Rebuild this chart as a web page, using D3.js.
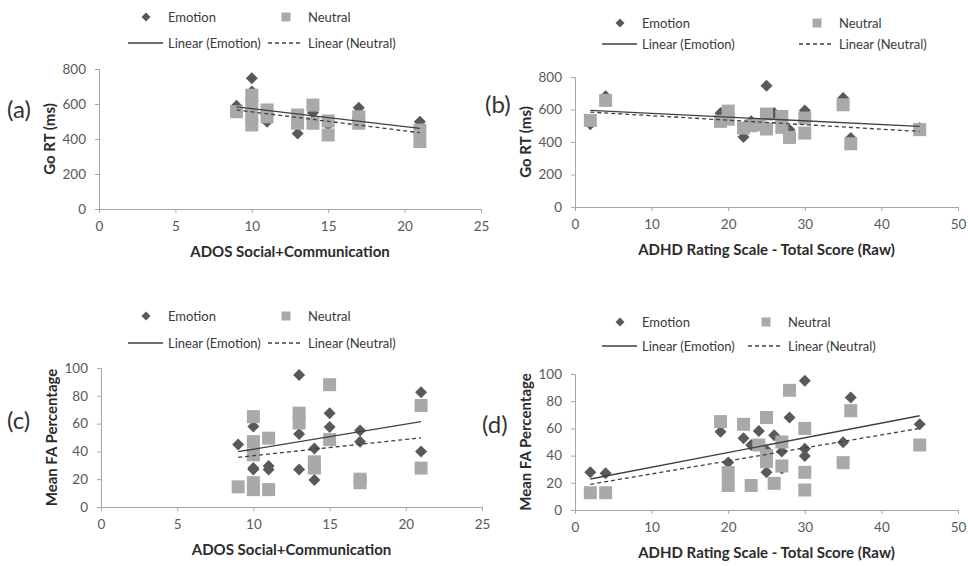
<!DOCTYPE html>
<html>
<head>
<meta charset="utf-8">
<script src="https://cdn.jsdelivr.net/npm/d3@7"></script>
<style>
	body { margin: 0; background: #fff; }
	svg { display: block; }
</style>
</head>
<body>
<div id="chart"></div>
<script>
// ---- data: [score, value] ----
var emotionRT_ADOS = [[9, 590], [10, 747], [10, 672], [11, 499], [13, 432], [14, 550], [15, 480], [17, 579], [21, 499]];
var neutralRT_ADOS = [[9, 556], [10, 650], [10, 600], [10, 530], [10, 480], [11, 566], [11, 527], [13, 537], [13, 490],
	[14, 594], [14, 490], [15, 503], [15, 423], [17, 527], [17, 490], [21, 451], [21, 385]];

var emotionRT_ADHD = [[2, 510], [4, 681], [19, 578], [22, 431], [23, 527], [25, 746], [26, 578], [28, 476], [30, 594],
	[35, 671], [36, 425], [45, 486]];
var neutralRT_ADHD = [[2, 533], [4, 656], [19, 527], [20, 590], [20, 540], [22, 486], [23, 500], [24, 506], [25, 572],
	[25, 480], [27, 557], [27, 490], [28, 428], [30, 547], [30, 455], [35, 629], [36, 389], [45, 476]];

var emotionFA_ADOS = [[9, 45], [10, 58], [10, 27], [10, 28], [11, 29.5], [11, 27], [13, 95], [13, 52.5], [13, 27],
	[14, 42], [14, 19.5], [15, 67.5], [15, 57.5], [17, 55], [17, 47], [21, 82.5], [21, 40]];
var neutralFA_ADOS = [[9, 14.5], [10, 65], [10, 47], [10, 37.5], [10, 17.5], [10, 12.5], [11, 49.5], [11, 12.5],
	[13, 67.5], [13, 60.5], [14, 32.5], [14, 28], [15, 88], [15, 48.5], [17, 20], [17, 17.5], [21, 73], [21, 28]];

var emotionFA_ADHD = [[2, 27.7], [4, 27], [19, 57.6], [20, 35], [20, 21], [22, 52.7], [23, 47.8], [24, 58], [25, 27.7],
	[25, 44], [26, 55], [27, 43], [27, 30.6], [28, 68], [30, 95], [30, 45], [30, 39.7], [35, 49.8], [36, 82.8], [45, 63]];
var neutralFA_ADHD = [[2, 12.7], [4, 12.7], [19, 65], [20, 27.5], [20, 18], [22, 63], [23, 18], [24, 47.8], [25, 68],
	[25, 40], [25, 35.5], [26, 19.6], [27, 50], [27, 32.4], [28, 88], [30, 60], [30, 27.7], [30, 14.7], [35, 34.8],
	[36, 73], [45, 47.8]];

// linear trendlines as drawn (end points)
var fitEmotionRT_ADOS = [[9, 584], [21, 461]];
var fitNeutralRT_ADOS = [[9, 566], [21, 436]];
var fitEmotionRT_ADHD = [[2, 594], [45, 496]];
var fitNeutralRT_ADHD = [[2, 584], [45, 465]];
var fitEmotionFA_ADOS = [[9, 39.8], [21, 61.4]];
var fitNeutralFA_ADOS = [[9, 35.7], [21, 49.8]];
var fitEmotionFA_ADHD = [[2, 22.8], [45, 69.3]];
var fitNeutralFA_ADHD = [[2, 18.9], [45, 60]];

var adosTicks = [0, 5, 10, 15, 20, 25];
var adhdTicks = [0, 10, 20, 30, 40, 50];
var rtTicks = [0, 200, 400, 600, 800];
var faTicks = [0, 20, 40, 60, 80, 100];

var legendLabels = ["Emotion", "Neutral", "Linear (Emotion)", "Linear (Neutral)"];

// ---- layout ----
var FONT = "Lato, 'Open Sans', sans-serif";
var DIAMOND_COLOR = "#595959";
var SQUARE_COLOR = "#a9a9a9";
var AXIS_COLOR = "#a6a6a6";
var LINE_COLOR = "#404040";
var DASH = "4,3";

var panels = [
	{ tag: "(a)", emo: emotionRT_ADOS, neu: neutralRT_ADOS, emoFit: fitEmotionRT_ADOS, neuFit: fitNeutralRT_ADOS,
		xTicks: adosTicks, yTicks: rtTicks, xTitle: "ADOS Social+Communication", yTitle: "Go RT (ms)",
		x0: 99, x1: 481, y0: 209, y1: 69, tagX: 7, tagY: 118, legX: 128, legY1: 17, legY2: 43, legCol2: 140 },
	{ tag: "(b)", emo: emotionRT_ADHD, neu: neutralRT_ADHD, emoFit: fitEmotionRT_ADHD, neuFit: fitNeutralRT_ADHD,
		xTicks: adhdTicks, yTicks: rtTicks, xTitle: "ADHD Rating Scale - Total Score (Raw)", yTitle: "Go RT (ms)",
		x0: 575, x1: 958, y0: 207, y1: 77, tagX: 485, tagY: 113, legX: 602, legY1: 23, legY2: 44, legCol2: 197 },
	{ tag: "(c)", emo: emotionFA_ADOS, neu: neutralFA_ADOS, emoFit: fitEmotionFA_ADOS, neuFit: fitNeutralFA_ADOS,
		xTicks: adosTicks, yTicks: faTicks, xTitle: "ADOS Social+Communication", yTitle: "Mean FA Percentage",
		x0: 101, x1: 482, y0: 507, y1: 368, tagX: 7, tagY: 429, legX: 128, legY1: 316, legY2: 343, legCol2: 140 },
	{ tag: "(d)", emo: emotionFA_ADHD, neu: neutralFA_ADHD, emoFit: fitEmotionFA_ADHD, neuFit: fitNeutralFA_ADHD,
		xTicks: adhdTicks, yTicks: faTicks, xTitle: "ADHD Rating Scale - Total Score (Raw)", yTitle: "Mean FA Percentage",
		x0: 575, x1: 958, y0: 510, y1: 374, tagX: 482, tagY: 433, legX: 602, legY1: 322, legY2: 346, legCol2: 146 }
];

var svg = d3.select("#chart").append("svg")
	.attr("width", 968)
	.attr("height", 566)
	.attr("font-family", FONT);

function diamondPath(r) {
	return "M0," + (-r) + "L" + r + ",0L0," + r + "L" + (-r) + ",0Z";
}

function drawPanel(p) {
	var g = svg.append("g");
	var xs = d3.scaleLinear().domain(d3.extent(p.xTicks)).range([p.x0, p.x1]);
	var ys = d3.scaleLinear().domain(d3.extent(p.yTicks)).range([p.y0, p.y1]);

	// axes
	var xAxis = g.append("g").attr("transform", "translate(0," + p.y0 + ")")
		.call(d3.axisBottom(xs).tickValues(p.xTicks).tickSize(4).tickPadding(6).tickSizeOuter(4));
	var yAxis = g.append("g").attr("transform", "translate(" + p.x0 + ",0)")
		.call(d3.axisLeft(ys).tickValues(p.yTicks).tickSize(4).tickPadding(9).tickSizeOuter(4));
	[xAxis, yAxis].forEach(function(ax) {
		ax.attr("font-family", FONT).attr("font-size", 13.5);
		ax.select(".domain").attr("stroke", AXIS_COLOR);
		ax.selectAll(".tick line").attr("stroke", AXIS_COLOR);
		ax.selectAll(".tick text").attr("fill", "#595959");
	});
	xAxis.selectAll(".tick text").attr("dy", "0.9em");

	// axis titles
	g.append("text")
		.attr("x", (p.x0 + p.x1) / 2)
		.attr("y", p.y0 + 48)
		.attr("text-anchor", "middle")
		.attr("font-size", 15)
		.attr("font-weight", "bold")
		.attr("fill", "#2b2b2b")
		.text(p.xTitle);
	g.append("text")
		.attr("transform", "translate(" + (p.x0 - 44) + "," + ((p.y0 + p.y1) / 2) + ") rotate(-90)")
		.attr("text-anchor", "middle")
		.attr("font-size", 15)
		.attr("font-weight", "bold")
		.attr("fill", "#2b2b2b")
		.text(p.yTitle);

	// panel tag
	g.append("text")
		.attr("x", p.tagX)
		.attr("y", p.tagY)
		.attr("font-size", 24)
		.attr("fill", "#333")
		.text(p.tag);

	// series: emotion first, neutral drawn over it
	g.append("g").selectAll("path").data(p.emo).join("path")
		.attr("d", diamondPath(6))
		.attr("transform", function(d) { return "translate(" + xs(d[0]) + "," + ys(d[1]) + ")"; })
		.attr("fill", DIAMOND_COLOR);
	g.append("g").selectAll("rect").data(p.neu).join("rect")
		.attr("x", function(d) { return xs(d[0]) - 6.5; })
		.attr("y", function(d) { return ys(d[1]) - 6.5; })
		.attr("width", 13)
		.attr("height", 13)
		.attr("fill", SQUARE_COLOR);

	// trendlines
	var line = d3.line().x(function(d) { return xs(d[0]); }).y(function(d) { return ys(d[1]); });
	g.append("path").datum(p.emoFit).attr("d", line)
		.attr("fill", "none").attr("stroke", LINE_COLOR).attr("stroke-width", 1.3);
	g.append("path").datum(p.neuFit).attr("d", line)
		.attr("fill", "none").attr("stroke", LINE_COLOR).attr("stroke-width", 1.3)
		.attr("stroke-dasharray", DASH);

	// legend
	var lg = g.append("g").attr("font-size", 13).attr("fill", "#3a3a3a");
	var c2 = p.legX + p.legCol2;
	lg.append("path").attr("d", diamondPath(4.5))
		.attr("transform", "translate(" + (p.legX + 18) + "," + p.legY1 + ")")
		.attr("fill", DIAMOND_COLOR);
	lg.append("rect").attr("x", c2 + 18 - 4.5).attr("y", p.legY1 - 4.5)
		.attr("width", 9).attr("height", 9).attr("fill", SQUARE_COLOR);
	lg.append("line").attr("x1", p.legX).attr("x2", p.legX + 35)
		.attr("y1", p.legY2).attr("y2", p.legY2)
		.attr("stroke", LINE_COLOR).attr("stroke-width", 1.3);
	lg.append("line").attr("x1", c2).attr("x2", c2 + 35)
		.attr("y1", p.legY2).attr("y2", p.legY2)
		.attr("stroke", LINE_COLOR).attr("stroke-width", 1.3).attr("stroke-dasharray", DASH);
	var textPos = [[p.legX + 40, p.legY1], [c2 + 40, p.legY1], [p.legX + 40, p.legY2], [c2 + 40, p.legY2]];
	lg.selectAll("text").data(legendLabels).join("text")
		.attr("x", function(d, i) { return textPos[i][0]; })
		.attr("y", function(d, i) { return textPos[i][1]; })
		.attr("dy", "0.35em")
		.text(function(d) { return d; });
}

panels.forEach(drawPanel);
</script>
</body>
</html>
